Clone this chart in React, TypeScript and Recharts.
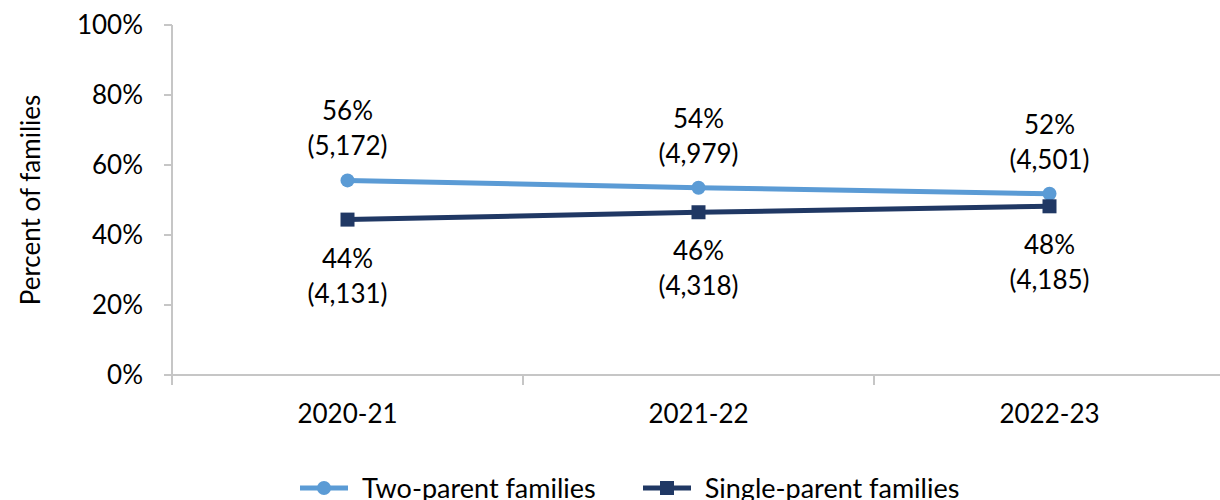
import React from "react";
import { LineChart, Line, XAxis, YAxis, LabelList, Label } from "recharts";

const categories = ["2020-21", "2021-22", "2022-23"];
const twoParentPct = [55.6, 53.5, 51.8];
const twoParentCount = ["5,172", "4,979", "4,501"];
const twoParentLabel = ["56%", "54%", "52%"];
const singleParentPct = [44.4, 46.5, 48.2];
const singleParentCount = ["4,131", "4,318", "4,185"];
const singleParentLabel = ["44%", "46%", "48%"];
const yTicks = [0, 20, 40, 60, 80, 100];

const LIGHT = "#5B9BD5";
const DARK = "#203864";
const AXIS = "#C6C6C6";
const FONT = "Lato, 'Liberation Sans', sans-serif";
const FS = 26;

const data = categories.map((c, i) => ({
  x: i + 0.5,
  cat: c,
  two: twoParentPct[i],
  single: singleParentPct[i],
}));

// ticks: integers are category boundaries (tick marks), halves are labels
const xTicks = [0, 0.5, 1, 1.5, 2, 2.5, 3];

const XTick = (props: any) => {
  const { x, y, payload } = props;
  const v = payload.value;
  if (Number.isInteger(v)) {
    if (v === 3) return <g />;
    return <line x1={x} x2={x} y1={y} y2={y + 10} stroke={AXIS} strokeWidth={2} />;
  }
  return (
    <text x={x} y={y + 38} textAnchor="middle" dominantBaseline="central" fontSize={FS} fill="#000" fontFamily={FONT}>
      {categories[Math.floor(v)]}
    </text>
  );
};

const makeLabel = (pcts: string[], counts: string[], above: boolean) => (props: any) => {
  const { x, y, index } = props;
  const y1 = above ? y - 70 : y + 38;
  const y2 = above ? y - 35 : y + 73;
  return (
    <g fontFamily={FONT} fontSize={FS} fill="#000">
      <text x={x} y={y1} textAnchor="middle" dominantBaseline="central">
        {pcts[index]}
      </text>
      <text x={x} y={y2} textAnchor="middle" dominantBaseline="central">
        ({counts[index]})
      </text>
    </g>
  );
};

const SquareDot = (props: any) => {
  const { cx, cy } = props;
  return <rect x={cx - 7} y={cy - 7} width={14} height={14} fill={DARK} />;
};

const YLabel = (props: any) => {
  const { viewBox } = props;
  const cy = viewBox.y + viewBox.height / 2;
  const cx = 30;
  return (
    <text
      x={cx}
      y={cy}
      transform={`rotate(-90 ${cx} ${cy})`}
      textAnchor="middle"
      dominantBaseline="central"
      fontSize={FS}
      fontFamily={FONT}
      fill="#000"
    >
      Percent of families
    </text>
  );
};

const LegendItem = ({ color, square, text }: { color: string; square?: boolean; text: string }) => (
  <div style={{ display: "flex", alignItems: "center" }}>
    <svg width={62} height={20}>
      <line x1={0} x2={48} y1={10} y2={10} stroke={color} strokeWidth={5} />
      {square ? (
        <rect x={17} y={3} width={14} height={14} fill={color} />
      ) : (
        <circle cx={24} cy={10} r={7} fill={color} />
      )}
    </svg>
    <span>{text}</span>
  </div>
);

export default function App() {
  return (
    <div style={{ position: "absolute", left: 0, top: 0, width: 1220, height: 500, background: "#fff", overflow: "hidden" }}>
      <LineChart width={1220} height={500} data={data} margin={{ top: 25, right: -5, left: 0, bottom: 75 }}>
        <XAxis
          dataKey="x"
          type="number"
          domain={[0, 3]}
          ticks={xTicks}
          tick={<XTick />}
          tickLine={false}
          tickSize={0}
          tickMargin={0}
          height={50}
          interval={0}
          axisLine={{ stroke: AXIS, strokeWidth: 2 }}
        />
        <YAxis
          domain={[0, 100]}
          ticks={yTicks}
          width={172}
          tickFormatter={(v) => `${v}%`}
          tickSize={8}
          tickMargin={21}
          tickLine={{ stroke: AXIS, strokeWidth: 2 }}
          axisLine={{ stroke: AXIS, strokeWidth: 2 }}
          tick={{ fontSize: FS, fill: "#000", fontFamily: FONT }}
        >
          <Label content={<YLabel />} />
        </YAxis>
        <Line
          dataKey="two"
          stroke={LIGHT}
          strokeWidth={5}
          dot={{ r: 7, fill: LIGHT, stroke: "none" }}
          isAnimationActive={false}
        >
          <LabelList dataKey="two" content={makeLabel(twoParentLabel, twoParentCount, true)} />
        </Line>
        <Line
          dataKey="single"
          stroke={DARK}
          strokeWidth={5}
          dot={<SquareDot />}
          isAnimationActive={false}
        >
          <LabelList dataKey="single" content={makeLabel(singleParentLabel, singleParentCount, false)} />
        </Line>
      </LineChart>
      <div
        style={{
          position: "absolute",
          top: 478,
          left: 300,
          display: "flex",
          gap: 47,
          fontFamily: FONT,
          fontSize: 27,
          color: "#000",
          lineHeight: "20px",
        }}
      >
        <LegendItem color={LIGHT} text="Two-parent families" />
        <LegendItem color={DARK} square text="Single-parent families" />
      </div>
    </div>
  );
}
